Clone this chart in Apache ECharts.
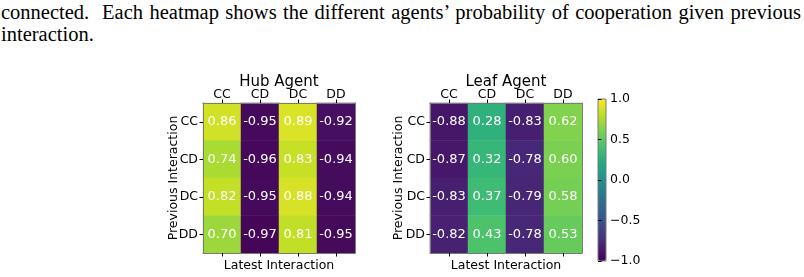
<!DOCTYPE html>
<html>
<head>
<meta charset="utf-8">
<script src="https://cdn.jsdelivr.net/npm/echarts@6/dist/echarts.min.js"></script>
<style>
	body{margin:0;background:#fff;}
	#page{position:relative;width:804px;height:277px;overflow:hidden;}
	.cap{position:absolute;left:1px;width:800px;font-family:'Liberation Serif',serif;font-size:20.5px;line-height:22px;color:#000;white-space:nowrap;}
	#cap1{top:1px;text-align:justify;text-align-last:justify;}
	#cap2{top:23px;}
	#chart{position:absolute;left:0;top:0;width:804px;height:277px;}
</style>
</head>
<body>
<div id="page">
	<div class="cap" id="cap1">connected.&nbsp; Each heatmap shows the different agents’ probability of cooperation given previous</div>
	<div class="cap" id="cap2">interaction.</div>
	<div id="chart"></div>
</div>
<script>
	// 行: previous interaction, 列: latest interaction
	var moves = ['CC', 'CD', 'DC', 'DD'];
	var hubValues = [
		[0.86, -0.95, 0.89, -0.92],
		[0.74, -0.96, 0.83, -0.94],
		[0.82, -0.95, 0.88, -0.94],
		[0.70, -0.97, 0.81, -0.95]
	];
	var leafValues = [
		[-0.88, 0.28, -0.83, 0.62],
		[-0.87, 0.32, -0.78, 0.60],
		[-0.83, 0.37, -0.79, 0.58],
		[-0.82, 0.43, -0.78, 0.53]
	];
	var barTicks = [-1.0, -0.5, 0.0, 0.5, 1.0];
	var viridis = ['#440154', '#482475', '#414487', '#355f8d', '#2a788e', '#21918c', '#22a884', '#44bf70', '#7ad151', '#bddf26', '#fde725'];

	var font = 'DejaVu Sans';
	var border = '#7a7a7a';
	var tickSize = 12.5;

	function toCells(rows){
		var out = [];
		rows.forEach(function(row, y){
			row.forEach(function(v, x){ out.push([x, y, v]); });
		});
		return out;
	}

	function heatAxes(gridIndex, title, yNameGap){
		var common = {
			type: 'category', data: moves, gridIndex: gridIndex, z: 5,
			nameMoveOverlap: false,
			axisLine: {show: true, lineStyle: {color: border, width: 1}},
			splitLine: {show: false}
		};
		var top = Object.assign({}, common, {
			position: 'top',
			name: title, nameLocation: 'middle', nameGap: 13.5,
			nameTextStyle: {fontFamily: font, fontSize: 15, color: '#000'},
			axisTick: {show: true, alignWithLabel: true, length: 3.5, lineStyle: {color: '#000'}},
			axisLabel: {show: true, margin: 1.5, fontFamily: font, fontSize: tickSize, color: '#000'}
		});
		var bottom = Object.assign({}, common, {
			position: 'bottom',
			name: 'Latest Interaction', nameLocation: 'middle', nameGap: 6,
			nameTextStyle: {fontFamily: font, fontSize: tickSize, color: '#000', verticalAlign: 'top'},
			axisTick: {show: true, alignWithLabel: true, length: 3.5, lineStyle: {color: '#000'}},
			axisLabel: {show: false}
		});
		var left = Object.assign({}, common, {
			position: 'left', inverse: true,
			name: 'Previous Interaction', nameLocation: 'middle', nameGap: yNameGap,
			nameTextStyle: {fontFamily: font, fontSize: tickSize, color: '#000'},
			axisTick: {show: true, alignWithLabel: true, length: 3.5, lineStyle: {color: '#000'}},
			axisLabel: {show: true, margin: 5, fontFamily: font, fontSize: tickSize, color: '#000'}
		});
		var right = Object.assign({}, common, {
			position: 'right', inverse: true,
			axisTick: {show: false}, axisLabel: {show: false}
		});
		return {x: [top, bottom], y: [left, right]};
	}

	var hubAx = heatAxes(0, 'Hub Agent', 23);
	var leafAx = heatAxes(1, 'Leaf Agent', 25);

	var chart = echarts.init(document.getElementById('chart'), null, {renderer: 'canvas'});
	var option = {
		animation: false,
		textStyle: {fontFamily: font},
		grid: [
			{left: 203, top: 103, width: 152, height: 152},
			{left: 430, top: 103, width: 152, height: 152},
			{left: 598, top: 99, width: 8, height: 162, show: true, z: 10,
				borderColor: border, borderWidth: 1, backgroundColor: 'transparent'}
		],
		xAxis: hubAx.x.concat(leafAx.x).concat([
			{type: 'value', gridIndex: 2, show: false, min: 0, max: 1}
		]),
		yAxis: hubAx.y.concat(leafAx.y).concat([
			{type: 'value', gridIndex: 2, position: 'right', min: -1, max: 1, interval: 0.5, z: 10,
				axisLine: {show: false}, splitLine: {show: false},
				axisTick: {show: true, length: 3.5, lineStyle: {color: '#000'}},
				axisLabel: {margin: 4, fontFamily: font, fontSize: tickSize, color: '#000',
					formatter: function(v){ return v.toFixed(1).replace('-', '\u2212'); }}}
		]),
		visualMap: {
			type: 'continuous', min: -1, max: 1, seriesIndex: [0, 1],
			left: 598, top: 99, itemWidth: 8, itemHeight: 162, padding: 0,
			calculable: false, hoverLink: false, text: null,
			inRange: {color: viridis}
		},
		series: [
			{
				type: 'heatmap', xAxisIndex: 0, yAxisIndex: 0,
				data: toCells(hubValues),
				label: {show: true, color: '#fff', fontFamily: font, fontSize: 13,
					formatter: function(p){ return p.value[2].toFixed(2); }}
			},
			{
				type: 'heatmap', xAxisIndex: 2, yAxisIndex: 2,
				data: toCells(leafValues),
				label: {show: true, color: '#fff', fontFamily: font, fontSize: 13,
					formatter: function(p){ return p.value[2].toFixed(2); }}
			}
		]
	};
	chart.setOption(option);
</script>
</body>
</html>
